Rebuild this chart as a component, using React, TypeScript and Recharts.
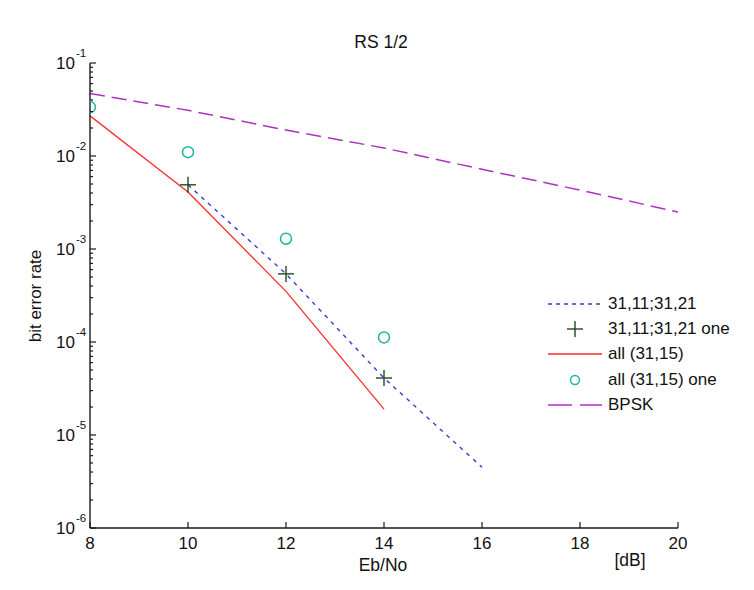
import React from "react";
import { ComposedChart, Line, Scatter, XAxis, YAxis } from "recharts";

const FONT = "'Liberation Sans', Arial, Helvetica, sans-serif";

// x axis (Eb/No, dB)
const xTicks = [8, 10, 12, 14, 16, 18, 20];
// y axis decades (exponents of 10)
const decades = [-6, -5, -4, -3, -2, -1];

// 31,11;31,21
const rsX = [10, 12, 14, 16];
const rsY = [4.9e-3, 5.4e-4, 4.1e-5, 4.5e-6];
// 31,11;31,21 one
const rsOneX = [10, 12, 14];
const rsOneY = [4.9e-3, 5.4e-4, 4.1e-5];
// all (31,15)
const allX = [8, 10, 12, 14];
const allY = [0.027, 4.1e-3, 3.5e-4, 1.9e-5];
// all (31,15) one
const allOneX = [8, 10, 12, 14];
const allOneY = [0.0336, 0.011, 1.29e-3, 1.12e-4];
// BPSK
const bpskX = [8, 10, 12, 14, 16, 18, 20];
const bpskY = [0.047, 0.031, 0.019, 0.0122, 0.0072, 0.0043, 0.0025];

const zip = (xs: number[], ys: number[]) => xs.map((x, i) => ({ x, y: ys[i] }));

const yTicks: number[] = [];
decades.forEach((e, i) => {
  yTicks.push(Math.pow(10, e));
  if (i < decades.length - 1) {
    for (let m = 2; m <= 9; m++) yTicks.push(m * Math.pow(10, e));
  }
});

const AXIS = "#1a1a1a";

function YTick({ x, y, payload }: any) {
  const v = payload.value;
  const e = Math.round(Math.log10(v));
  const major = Math.abs(v - Math.pow(10, e)) / v < 1e-6;
  return (
    <g>
      <line x1={x} x2={x + (major ? 6 : 3)} y1={y} y2={y} stroke={AXIS} strokeWidth={1.2} />
      {major && (
        <g fontFamily={FONT} fill="#111">
          <text x={x - 15} y={y + 6} textAnchor="end" fontSize={17}>
            10
          </text>
          <text x={x - 14} y={y - 6} textAnchor="start" fontSize={11.5}>
            {e}
          </text>
        </g>
      )}
    </g>
  );
}

function XTick({ x, y, payload }: any) {
  return (
    <g>
      <line x1={x} x2={x} y1={y} y2={y - 6} stroke={AXIS} strokeWidth={1.2} />
      <text x={x} y={y + 21} textAnchor="middle" fontSize={17} fontFamily={FONT} fill="#111">
        {payload.value}
      </text>
    </g>
  );
}

const Plus = ({ cx, cy }: any) => (
  <g stroke="#1e4a1e" strokeWidth={1.4}>
    <line x1={cx - 8} x2={cx + 8} y1={cy} y2={cy} />
    <line x1={cx} x2={cx} y1={cy - 8} y2={cy + 8} />
  </g>
);

const Ring = ({ cx, cy }: any) => (
  <circle cx={cx} cy={cy} r={5.5} fill="none" stroke="#22b3a6" strokeWidth={1.5} />
);

const legendRows = [
  { label: "31,11;31,21", kind: "blue" },
  { label: "31,11;31,21 one", kind: "plus" },
  { label: "all (31,15)", kind: "red" },
  { label: "all (31,15) one", kind: "ring" },
  { label: "BPSK", kind: "bpsk" },
];

function LegendIcon({ kind }: { kind: string }) {
  return (
    <svg width={56} height={20} style={{ display: "block" }}>
      {kind === "blue" && (
        <line x1={1} x2={55} y1={10} y2={10} stroke="#3b3bd0" strokeWidth={1.4} strokeDasharray="4 4" />
      )}
      {kind === "plus" && (
        <g stroke="#1e4a1e" strokeWidth={1.4}>
          <line x1={20} x2={36} y1={10} y2={10} />
          <line x1={28} x2={28} y1={2} y2={18} />
        </g>
      )}
      {kind === "red" && <line x1={1} x2={55} y1={10} y2={10} stroke="#ff2a2a" strokeWidth={1.4} />}
      {kind === "ring" && <circle cx={28} cy={10} r={4.5} fill="none" stroke="#22b3a6" strokeWidth={1.5} />}
      {kind === "bpsk" && (
        <line x1={1} x2={55} y1={10} y2={10} stroke="#b030c4" strokeWidth={1.5} strokeDasharray="24 8" />
      )}
    </svg>
  );
}

export default function App() {
  return (
    <div style={{ position: "absolute", left: 0, top: 0, width: 754, height: 590, background: "#fff", fontFamily: FONT }}>
      <ComposedChart width={754} height={590} margin={{ top: 63, right: 76, bottom: 32, left: 30 }}>
        <XAxis
          type="number"
          dataKey="x"
          domain={[8, 20]}
          ticks={xTicks}
          interval={0}
          height={30}
          tickSize={0}
          tickMargin={0}
          tick={<XTick />}
          axisLine={{ stroke: AXIS, strokeWidth: 1.4 }}
          tickLine={false}
          allowDataOverflow
        />
        <YAxis
          type="number"
          dataKey="y"
          scale="log"
          domain={[1e-6, 1e-1]}
          ticks={yTicks}
          interval={0}
          width={60}
          tickSize={0}
          tickMargin={0}
          tick={<YTick />}
          axisLine={{ stroke: AXIS, strokeWidth: 1.4 }}
          tickLine={false}
          allowDataOverflow
        />
        <Line
          data={zip(bpskX, bpskY)}
          dataKey="y"
          type="linear"
          stroke="#b030c4"
          strokeWidth={1.5}
          strokeDasharray="15 7"
          dot={false}
          isAnimationActive={false}
        />
        <Line
          data={zip(allX, allY)}
          dataKey="y"
          type="linear"
          stroke="#ff2a2a"
          strokeWidth={1.3}
          dot={false}
          isAnimationActive={false}
        />
        <Line
          data={zip(rsX, rsY)}
          dataKey="y"
          type="linear"
          stroke="#3b3bd0"
          strokeWidth={1.4}
          strokeDasharray="4 5"
          dot={false}
          isAnimationActive={false}
        />
        <Scatter data={zip(rsOneX, rsOneY)} dataKey="y" shape={<Plus />} isAnimationActive={false} />
        <Scatter data={zip(allOneX, allOneY)} dataKey="y" shape={<Ring />} isAnimationActive={false} />
        <text x={381} y={48} textAnchor="middle" fontSize={17.5} fontFamily={FONT} fill="#111">
          RS 1/2
        </text>
        <text x={383} y={571} textAnchor="middle" fontSize={17.5} fontFamily={FONT} fill="#111">
          Eb/No
        </text>
        <text x={630} y={566} textAnchor="middle" fontSize={17.5} fontFamily={FONT} fill="#111">
          [dB]
        </text>
        <text
          x={0}
          y={0}
          transform="translate(41 296) rotate(-90)"
          textAnchor="middle"
          fontSize={17}
          fontFamily={FONT}
          fill="#111"
        >
          bit error rate
        </text>
      </ComposedChart>
      <div style={{ position: "absolute", left: 547, top: 291 }}>
        {legendRows.map((r) => (
          <div key={r.label} style={{ display: "flex", alignItems: "center", height: 25.3 }}>
            <LegendIcon kind={r.kind} />
            <span style={{ marginLeft: 5, fontSize: 17, color: "#111", whiteSpace: "nowrap" }}>{r.label}</span>
          </div>
        ))}
      </div>
    </div>
  );
}
